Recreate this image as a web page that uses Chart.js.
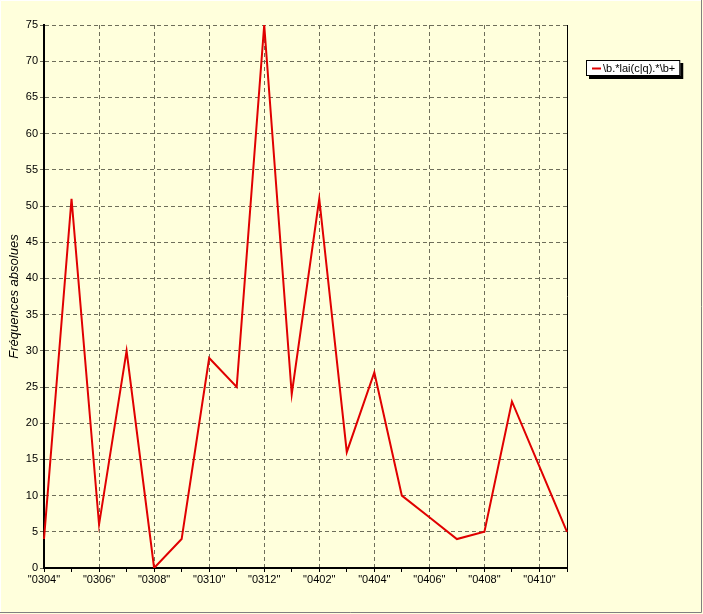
<!DOCTYPE html>
<html>
<head>
<meta charset="utf-8">
<script src="https://cdn.jsdelivr.net/npm/chart.js@4/dist/chart.umd.min.js"></script>
<style>
  html, body { margin: 0; padding: 0; background: #FFFFDC; }
  #wrap { width: 703px; height: 614px; position: relative; }
</style>
</head>
<body>
<div id="wrap"><canvas id="c" width="703" height="614"></canvas></div>
<script>
const categories = ['"0304"','"0305"','"0306"','"0307"','"0308"','"0309"','"0310"','"0311"','"0312"','"0401"',
                    '"0402"','"0403"','"0404"','"0405"','"0406"','"0407"','"0408"','"0409"','"0410"','"0411"'];
const seriesName = '\\b.*lai(c|q).*\\b+';
const seriesValues = [4, 51, 6, 30, 0, 4, 29, 25, 75, 24, 51, 16, 27, 10, 7, 4, 5, 23, 14, 5];
const yTicks = { min: 0, max: 75, step: 5 };
const yTitle = 'Fréquences absolues';

const FONT = 'Liberation Sans, Arial, sans-serif';
const GRID = '#6e6e5a';

const framePlugin = {
  id: 'frame',
  beforeDraw(chart) {
    const ctx = chart.ctx;
    ctx.save();
    ctx.fillStyle = '#FFFFDC';
    ctx.fillRect(0, 0, chart.width, chart.height);
    ctx.strokeStyle = '#ffffff';
    ctx.lineWidth = 1;
    ctx.beginPath();
    ctx.moveTo(0.5, chart.height - 2); ctx.lineTo(0.5, 0.5); ctx.lineTo(chart.width - 2, 0.5);
    ctx.stroke();
    ctx.strokeStyle = '#808080';
    ctx.beginPath();
    ctx.moveTo(0, chart.height - 1.5); ctx.lineTo(chart.width - 1.5, chart.height - 1.5); ctx.lineTo(chart.width - 1.5, 0);
    ctx.stroke();
    ctx.restore();
  },
  beforeDatasetsDraw(chart) {
    const {ctx, chartArea: a} = chart;
    ctx.save();
    ctx.strokeStyle = '#000';
    ctx.lineWidth = 1;
    ctx.beginPath();
    ctx.moveTo(a.right + 0.5, a.top);
    ctx.lineTo(a.right + 0.5, a.bottom);
    ctx.stroke();
    ctx.restore();
  },
  afterDraw(chart) {
    const {ctx, chartArea: a} = chart;
    const ds = chart.data.datasets[0];
    ctx.save();
    ctx.font = '11px ' + FONT;
    const tw = ctx.measureText(ds.label).width;
    const x = a.right + 19, y = a.top + 35;
    const w = tw + 22, h = 16;
    ctx.fillStyle = '#000';
    ctx.fillRect(x + 3, y + 3, w, h);
    ctx.fillStyle = '#fff';
    ctx.fillRect(x, y, w, h);
    ctx.strokeStyle = '#000';
    ctx.lineWidth = 1;
    ctx.strokeRect(x + 0.5, y + 0.5, w - 1, h - 1);
    ctx.strokeStyle = ds.borderColor;
    ctx.lineWidth = 2;
    ctx.beginPath();
    ctx.moveTo(x + 6, y + 8.5); ctx.lineTo(x + 15, y + 8.5);
    ctx.stroke();
    ctx.fillStyle = '#000';
    ctx.textBaseline = 'middle';
    ctx.fillText(ds.label, x + 17, y + 8.5);
    ctx.restore();
  }
};

new Chart(document.getElementById('c'), {
  type: 'line',
  data: {
    labels: categories,
    datasets: [{
      label: seriesName,
      data: seriesValues,
      borderColor: '#e00000',
      borderWidth: 2,
      pointRadius: 0,
      tension: 0,
      fill: false
    }]
  },
  options: {
    responsive: false,
    animation: false,
    devicePixelRatio: 1,
    layout: { padding: { left: 4, top: 25, right: 136, bottom: 0 } },
    plugins: { legend: { display: false }, tooltip: { enabled: false } },
    scales: {
      x: {
        type: 'category',
        offset: false,
        afterFit(s) { s.height = 46; },
        border: { display: true, color: '#000', width: 2, dash: [4, 3] },
        grid: {
          color: (c) => (c.index % 2 === 0 ? GRID : 'rgba(0,0,0,0)'),
          lineWidth: 1,
          tickLength: 4,
          tickColor: '#000',
          tickWidth: 1,
          tickBorderDash: []
        },
        ticks: {
          autoSkip: false,
          maxRotation: 0,
          minRotation: 0,
          padding: 1,
          color: '#000',
          font: { family: FONT, size: 11 },
          callback: (v, i) => (i % 2 === 0 ? categories[i] : '')
        }
      },
      y: {
        min: yTicks.min,
        max: yTicks.max,
        afterFit(s) { s.width = 40; },
        border: { display: true, color: '#000', width: 2, dash: [4, 3] },
        grid: {
          color: GRID,
          lineWidth: 1,
          tickLength: 4,
          tickColor: GRID,
          tickBorderDash: [3, 2]
        },
        ticks: {
          stepSize: yTicks.step,
          padding: 2,
          color: '#000',
          font: { family: FONT, size: 11 }
        },
        title: {
          display: true,
          text: yTitle,
          color: '#000',
          font: { family: FONT, size: 13, style: 'italic' },
          padding: { top: 3, bottom: 0 }
        }
      }
    }
  },
  plugins: [framePlugin]
});
</script>
</body>
</html>
